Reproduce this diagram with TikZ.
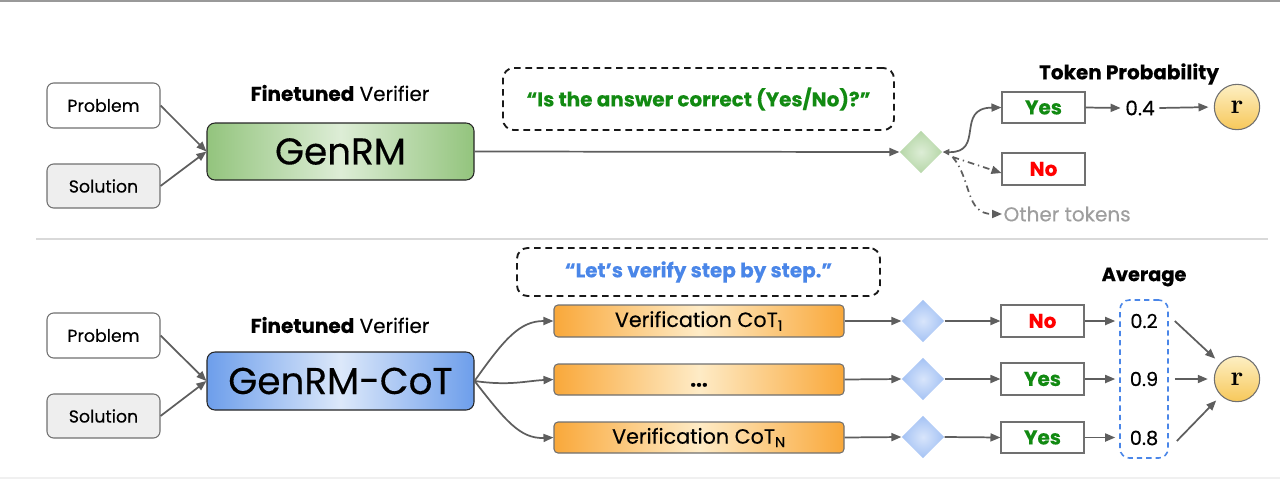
\documentclass[tikz,border=0pt]{standalone}
\usepackage[no-math]{fontspec}
\setmainfont{Poppins}[FakeBold=0.3]
\usetikzlibrary{arrows.meta,shapes.geometric,calc}
\definecolor{arr}{HTML}{5E5E5E}
\definecolor{bord}{HTML}{707070}
\definecolor{solfill}{HTML}{EEEEEE}
\definecolor{gedge}{HTML}{93C47D}
\definecolor{gmid}{HTML}{DDEDD6}
\definecolor{bedge}{HTML}{6D9EEB}
\definecolor{bmid}{HTML}{DCE8FA}
\definecolor{oedge}{HTML}{F9A83A}
\definecolor{omid}{HTML}{FEEBC6}
\definecolor{qgreen}{HTML}{128A12}
\definecolor{qblue}{HTML}{4A86E8}
\definecolor{nored}{HTML}{FF0000}
\definecolor{othergray}{HTML}{9E9E9E}
\definecolor{gdia}{HTML}{B6D7A8}
\definecolor{gdiain}{HTML}{DDEDD6}
\definecolor{bdia}{HTML}{A4C2F4}
\definecolor{bdiain}{HTML}{D8E5FB}
\definecolor{rtop}{HTML}{FDEFC3}
\definecolor{rbot}{HTML}{F7C85A}
\begin{document}
\begin{tikzpicture}[x=0.75pt,y=-0.75pt,
 rect/.style n args={4}{minimum width={(#3-#1)*0.75pt}, minimum height={(#4-#2)*0.75pt}, at={({(#1+#3)/2},{(#2+#4)/2})}},
 inbox/.style={draw=bord, line width=0.8pt, rounded corners=5pt, inner sep=0pt, font=\fontsize{13}{15}\selectfont},
 model/.style={draw=black!85, line width=0.8pt, rounded corners=6pt, inner sep=0pt, font=\fontsize{28}{32}\selectfont},
 cotbox/.style={draw=bord, line width=0.8pt, rounded corners=3pt, inner sep=0pt, left color=oedge, right color=oedge, middle color=omid, font=\fontsize{15.5}{17}\selectfont},
 tokbox/.style={draw=bord, line width=0.8pt, fill=white, inner sep=0pt, font=\bfseries\fontsize{15}{17}\selectfont},
 prompt/.style={draw=black!90, line width=1.4pt, dash pattern=on 5pt off 3.5pt, rounded corners=8pt, inner sep=0pt, font=\bfseries\fontsize{15}{17}\selectfont},
 dia/.style={diamond, minimum width=32pt, minimum height=32pt, inner sep=0pt},
 rnode/.style={circle, draw=bord, line width=0.8pt, minimum size=34pt, inner sep=0pt, top color=rtop, bottom color=rbot, font=\fontsize{22}{22}\selectfont},
 title/.style={font=\fontsize{15}{17}\selectfont},
 btitle/.style={font=\bfseries\fontsize{14.5}{17}\selectfont},
 val/.style={font=\fontsize{14.5}{16}\selectfont},
 arrow/.style={draw=arr, line width=1.3pt, -{Triangle[length=7.5pt,width=6pt]}},
 ddarrow/.style={arrow, dash pattern=on 5pt off 3pt on 1pt off 3pt},
 sep/.style={line width=0.8pt},
]
\useasboundingbox (0,0) rectangle (1280,479);
% separators
\draw[sep, draw=black!40, line width=1.5pt] (0,1) -- (1280,1);
\draw[sep, draw=black!15] (36,239) -- (1268,239);
\draw[sep, draw=black!6] (0,478) -- (1280,478);

% ---------- top: GenRM ----------
\node[inbox, fill=white, rect={47}{83}{160}{128}] (p1) {Problem};
\node[inbox, fill=solfill, rect={47}{164}{160}{208}] (s1) {Solution};
\node[title] (f1) at (340,93) {\textbf{Finetuned} Verifier};
\node[model, left color=gedge, right color=gedge, middle color=gmid, rect={207}{123}{474}{180}] (g1) {GenRM};
\node[prompt, text=qgreen, rect={503}{68}{894}{130}] (q1) {“Is the answer correct (Yes/No)?”};
\node[dia, inner color=gdiain, outer color=gdia] (d1) at (921,152) {};
\node[tokbox, text=qgreen, rect={1002}{92}{1085}{123}] (y1) {Yes};
\node[tokbox, text=nored, rect={1002}{153}{1085}{185}] (n1) {No};
\node[title, anchor=west, text=othergray, inner sep=1pt] (ot) at (1002,214) {Other tokens};
\node[title] (v1) at (1140,108) {0.4};
\node[rnode] (r1) at (1237,107) {$\mathbf{r}$};
\node[btitle, font=\bfseries\fontsize{15}{17}\selectfont] (tp) at (1129,74) {Token Probability};

\draw[arrow] (p1.east) -- (g1.west);
\draw[arrow] (s1.east) -- (g1.west);
\draw[arrow] (g1.east) -- (d1.west);
\draw[arrow, {Triangle[length=5pt,width=4.5pt]}-{Triangle[length=7.5pt,width=6pt]}] (d1.east) .. controls (985,153) and (955,108) .. (y1.west);
\draw[ddarrow] ($(d1.east)+(10,5)$) -- ($(n1.west)+(0,4)$);
\draw[ddarrow] ($(d1.east)+(10,5)$) .. controls (972,180) and (965,214) .. (ot.west);
\draw[arrow] (y1.east) -- (v1.west);
\draw[arrow, shorten >=4pt] (v1.east) -- (r1.west);

% ---------- bottom: GenRM-CoT ----------
\node[inbox, fill=white, rect={47}{313}{160}{358}] (p2) {Problem};
\node[inbox, fill=solfill, rect={47}{394}{160}{438}] (s2) {Solution};
\node[title] (f2) at (340,325) {\textbf{Finetuned} Verifier};
\node[model, left color=bedge, right color=bedge, middle color=bmid, rect={207}{352}{474}{410}] (g2) {GenRM-CoT};
\node[prompt, text=qblue, rect={517}{248}{880}{296}] (q2) {“Let’s verify step by step.”};

\node[cotbox, rect={554}{305}{844}{337}] (c1) {Verification CoT\textsubscript{1}};
\node[cotbox, rect={554}{364}{844}{395}] (c2) {\vphantom{V}\textbf{...}};
\node[cotbox, rect={554}{422}{844}{453}] (c3) {Verification CoT\textsubscript{N}};

\node[dia, inner color=bdiain, outer color=bdia] (e1) at (923,321) {};
\node[dia, inner color=bdiain, outer color=bdia] (e2) at (923,379) {};
\node[dia, inner color=bdiain, outer color=bdia] (e3) at (923,437) {};

\node[tokbox, text=nored, rect={1001}{305}{1084}{337}] (t1) {No};
\node[tokbox, text=qgreen, rect={1001}{363}{1084}{395}] (t2) {Yes};
\node[tokbox, text=qgreen, rect={1001}{422}{1084}{453}] (t3) {Yes};

\node[draw=qblue, line width=1.2pt, dash pattern=on 4pt off 3pt, rounded corners=7pt, inner sep=0pt, rect={1120}{300}{1168}{458}] (avg) {};
\node[val] (a1) at (1144,321) {0.2};
\node[val] (a2) at (1144,379) {0.9};
\node[val] (a3) at (1144,438) {0.8};
\node[btitle] (av) at (1144,277) {Average};
\node[rnode] (r2) at (1237,379) {$\mathbf{r}$};

\draw[arrow] (p2.east) -- (g2.west);
\draw[arrow] (s2.east) -- (g2.west);
\draw[arrow] (g2.east) .. controls (505,338) and (520,321) .. (c1.west);
\draw[arrow] (g2.east) .. controls (510,386) and (525,381) .. (c2.west);
\draw[arrow] (g2.east) .. controls (505,420) and (520,439) .. (c3.west);
\foreach \i in {1,2,3}{
  \draw[arrow] (c\i.east) -- (e\i.west);
  \draw[arrow] (e\i.east) -- (t\i.west);
  \draw[arrow, shorten >=3pt] (t\i.east) -- (t\i.east -| avg.west);
}
\draw[arrow, shorten >=5pt] ($(a1 -| avg.east)+(6,0)$) -- (r2);
\draw[arrow, shorten >=4.5pt] ($(a2 -| avg.east)+(6,0)$) -- (r2.west);
\draw[arrow, shorten >=5pt] ($(a3 -| avg.east)+(8,3)$) -- (r2);
\end{tikzpicture}
\end{document}
